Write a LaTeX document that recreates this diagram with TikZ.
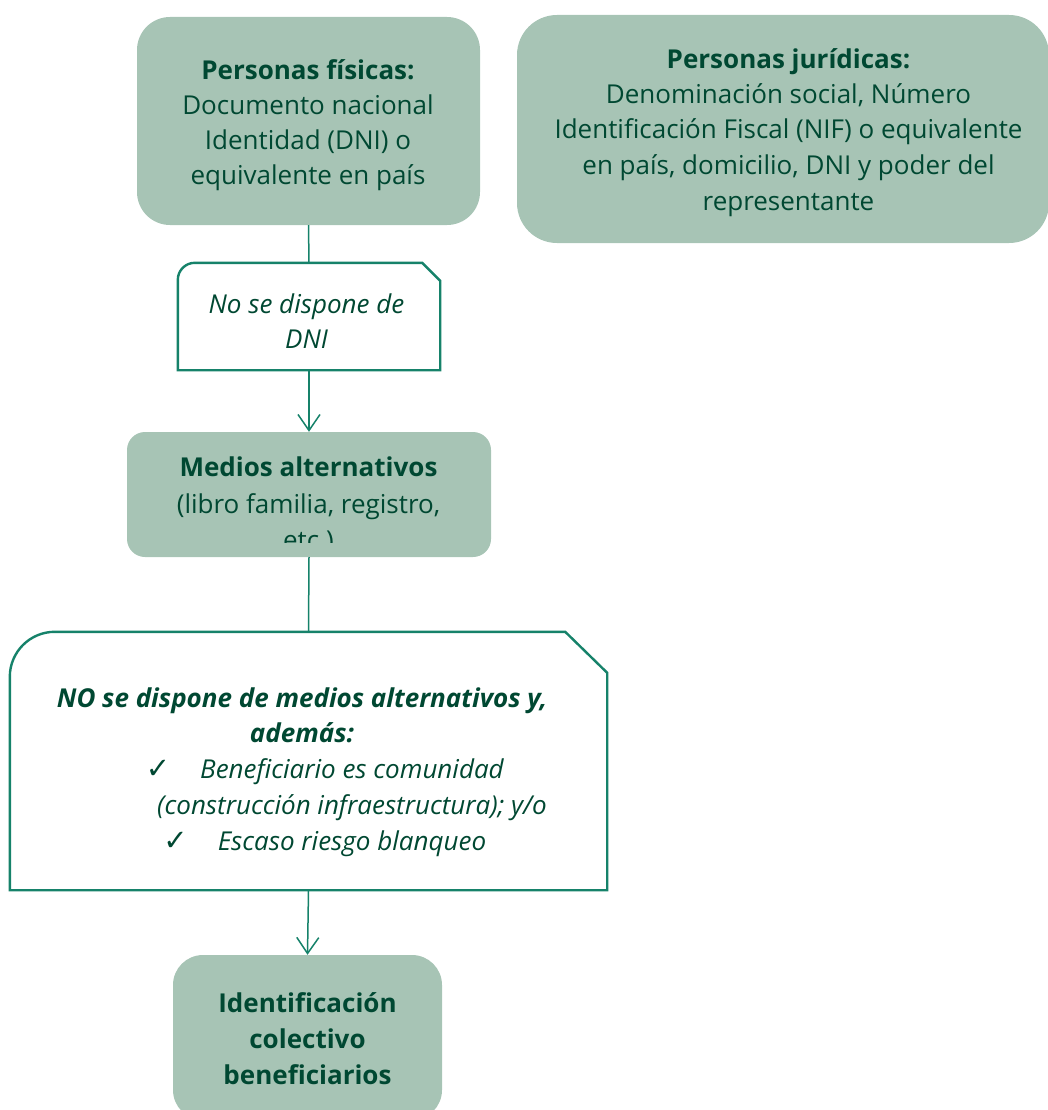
\documentclass[tikz,border=0pt]{standalone}
\usepackage{fontspec}
\setmainfont{Open Sans}
\newfontfamily\chkfont{DejaVu Sans}
\usetikzlibrary{arrows.meta}
\usetikzlibrary{positioning}
\definecolor{boxgreen}{RGB}{167,196,181}
\definecolor{inkgreen}{RGB}{0,72,50}
\definecolor{linegreen}{RGB}{22,130,106}
\tikzstyle{greenbox}=[rectangle,fill=boxgreen,draw=none,inner sep=0pt]
\tikzstyle{snipbox}=[rectangle,draw=none,inner sep=0pt]
\tikzstyle{snipline}=[draw=linegreen,line width=2.4pt,fill=white]
\tikzstyle{txt}=[text=inkgreen,align=center,font=\fontsize{26}{35.5}\selectfont,inner sep=0pt]
\tikzstyle{edge}=[draw=linegreen,line width=1.5pt,-{Straight Barb[length=16pt,width=22pt]}]
\tikzstyle{link}=[draw=linegreen,line width=1.5pt]
\newcommand{\chk}{{\chkfont\fontsize{29}{29}\selectfont ✓}}

\begin{document}
\begin{tikzpicture}[x=1pt,y=-1pt]

  \clip (0,0) rectangle (1048,1110);

  % shaded boxes
  \node[greenbox, minimum width=343pt, minimum height=208pt, rounded corners=33pt] (fisicas) at (308.5,121) {};
  \node[greenbox, minimum width=532pt, minimum height=228pt, rounded corners=40pt] (juridicas) at (783,129) {};
  \node[greenbox, minimum width=364pt, minimum height=125pt, rounded corners=18pt] (medios) at (309,494.5) {};
  \node[greenbox, minimum width=269pt, minimum height=165pt, rounded corners=30pt] (ident) at (307.5,1037.5) {};

  % open boxes with a cut corner
  \node[snipbox, minimum width=262pt, minimum height=107pt] (nodni) at (309,316.5) {};
  \node[snipbox, minimum width=597pt, minimum height=258pt] (nomedios) at (308.5,761) {};

  \draw[snipline] (nodni.south west) -- ([yshift=-17pt]nodni.north west) arc[start angle=180, end angle=90, radius=17pt]
     -- ([xshift=-18pt]nodni.north east) -- ([yshift=-18pt]nodni.north east) -- (nodni.south east) -- cycle;
  \draw[snipline] (nomedios.south west) -- ([yshift=-45pt]nomedios.north west) arc[start angle=180, end angle=90, radius=45pt]
     -- ([xshift=-42pt]nomedios.north east) -- ([yshift=-41pt]nomedios.north east) -- (nomedios.south east) -- cycle;

  \foreach \source/\dest in {fisicas/nodni, medios/nomedios}
         \path[link] (\source.south) -- (\dest.north);
  \foreach \source/\dest in {nodni/medios, nomedios/ident}
         \path[edge] (\source.south) -- (\dest.north);

  % texts (base = last line)
  \node[txt, anchor=base, font=\fontsize{26}{35}\selectfont] (fisicas-t) at (308,185) {\textbf{Personas físicas:}\\Documento nacional\\Identidad (DNI) o\\equivalente en país};
  \node[txt, anchor=base] (juridicas-t) at (788.5,210) {\textbf{Personas jurídicas:}\\Denominación social, Número\\Identificación Fiscal (NIF) o equivalente\\en país, domicilio, DNI y poder del\\representante};
  \node[txt, anchor=base, font=\fontsize{26}{35}\selectfont\itshape] (nodni-t) at (306.5,348) {No se dispone de\\DNI};
  \begin{scope}
    \clip (medios.north west) rectangle ([yshift=15pt]medios.south east);
    \node[txt, anchor=base, font=\fontsize{26}{36.5}\selectfont] (medios-t) at (308.5,549.5) {\textbf{Medios alternativos}\\(libro familia, registro,\\etc.)};
  \end{scope}
  \node[txt, anchor=base, font=\fontsize{26}{35}\selectfont\bfseries\itshape] (nomedios-t) at (302,742) {NO se dispone de medios alternativos y,\\además:};
  \node[txt, anchor=base, font=\fontsize{26}{36}\selectfont\itshape] (lista) at (352,850)
     {\llap{\chk\hspace{30pt}}Beneficiario es comunidad\\(construcción infraestructura); y/o\\\llap{\chk\hspace{30pt}}Escaso riesgo blanqueo};
  \node[txt, anchor=base, font=\fontsize{26}{35.7}\selectfont\bfseries] (ident-t) at (307.5,1084) {Identificación\\colectivo\\beneficiarios};

\end{tikzpicture}
\end{document}
